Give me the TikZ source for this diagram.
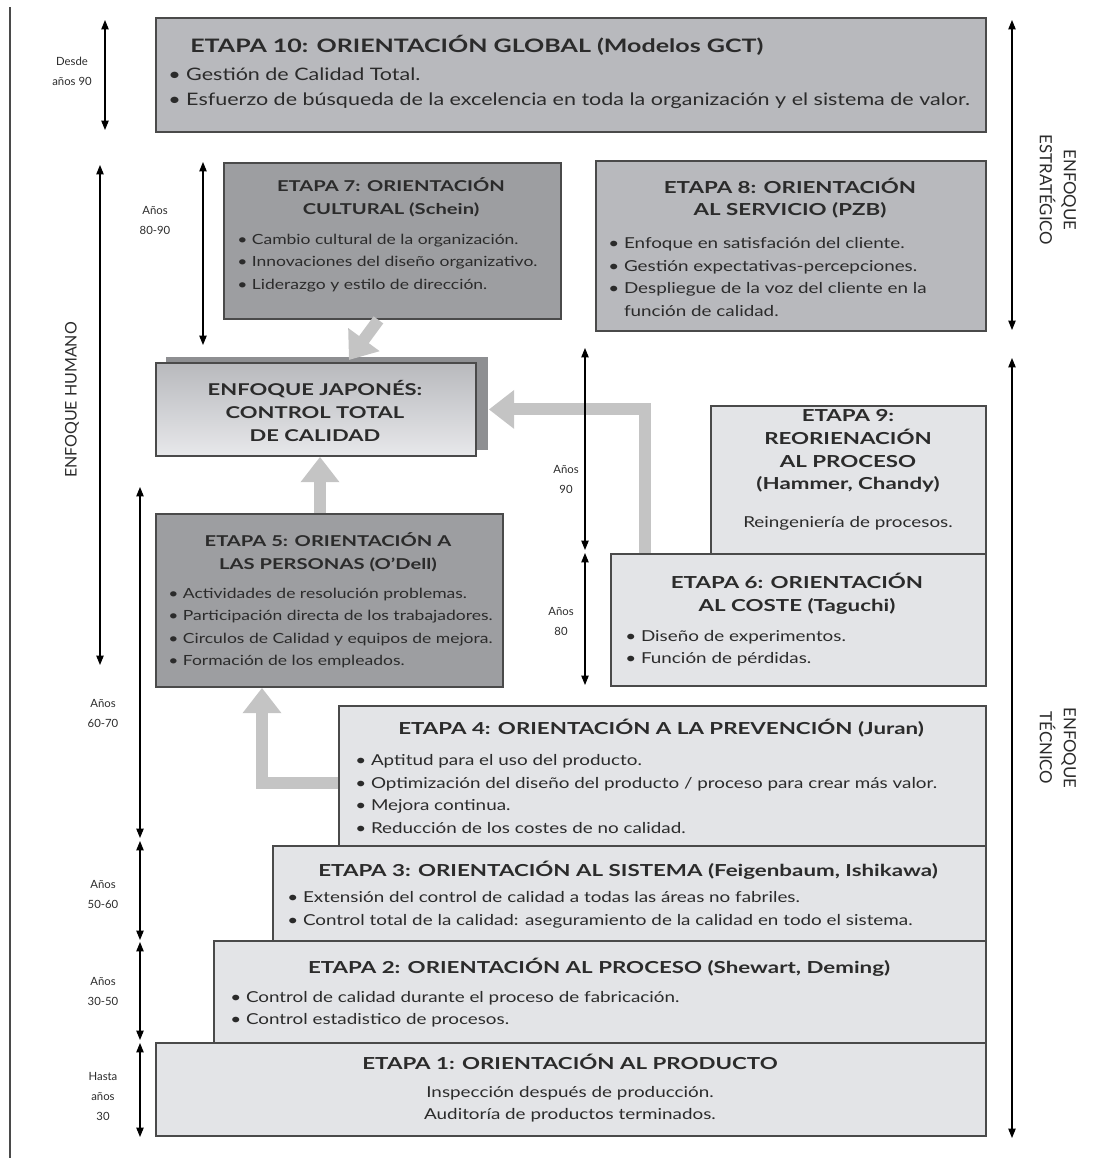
\documentclass[tikz,border=0pt]{standalone}
\usepackage{fontspec}
\setmainfont{Lato}
\newfontfamily\headfont{Lato}[FakeStretch=1.35]
\newfontfamily\copyfont{Lato}[FakeStretch=1.25]
\usetikzlibrary{arrows.meta,calc}
\definecolor{darkfill}{HTML}{9D9EA1}
\definecolor{midfill}{HTML}{B8B9BD}
\definecolor{lightfill}{HTML}{E3E4E7}
\definecolor{edge}{HTML}{4A4A4A}
\definecolor{flow}{HTML}{C4C4C4}
\definecolor{ink}{HTML}{2B2B2B}
\definecolor{shadowfill}{HTML}{8E8F92}
\begin{document}
\begin{tikzpicture}[x=0.75pt,y=-0.75pt,
  stage/.style={draw=edge, line width=1.4pt, anchor=north west, inner sep=0pt},
  wh/.style 2 args={minimum width=#1*0.75pt, minimum height=#2*0.75pt},
  title/.style={font=\headfont\bfseries\fontsize{12.4}{17}\selectfont, text=ink, align=center, inner sep=0pt},
  dtitle/.style={title, font=\headfont\bfseries\fontsize{11.2}{17}\selectfont},
  body/.style={font=\copyfont\fontsize{11.3}{16.8}\selectfont, text=ink, align=left, inner sep=0pt, anchor=west},
  dbody/.style={body, font=\copyfont\fontsize{10.5}{16.8}\selectfont},
  span/.style={{Triangle[length=7pt,width=5.5pt]}-{Triangle[length=7pt,width=5.5pt]}, line width=0.8pt, black},
  era/.style={font=\fontsize{8.5}{15}\selectfont, align=center, text=ink, inner sep=0pt},
  flowarrow/.style={draw=flow, line width=9pt, -{Triangle[length=19pt,width=28pt]}},
  side/.style={font=\fontsize{12}{18}\selectfont, align=center, text=ink, inner sep=0pt}
]
\useasboundingbox (0,0) rectangle (1116,1158);

% left frame line
\draw[edge, line width=1.5pt] (10,7) -- (10,1158);

% ---- stage boxes ----
\node[stage, wh={830}{114}, fill=midfill]   (e10) at (155,17) {};
\node[stage, wh={337}{156}, fill=darkfill]  (e7)  at (223,162) {};
\node[stage, wh={390}{170}, fill=midfill]   (e8)  at (595,160) {};
\node[stage, wh={322}{93}, fill=shadowfill, draw=none] (jps) at (165,356) {};
\node[stage, wh={320}{93}, top color=midfill, bottom color=lightfill!85!white] (jp) at (155,362) {};
\node[stage, wh={275}{148}, fill=lightfill] (e9)  at (710,405) {};
\node[stage, wh={375}{132}, fill=lightfill] (e6)  at (610,553) {};
\node[stage, wh={347}{173}, fill=darkfill]  (e5)  at (155,513) {};
\node[stage, wh={647}{140}, fill=lightfill] (e4)  at (338,705) {};
\node[stage, wh={713}{95}, fill=lightfill]  (e3)  at (272,845) {};
\node[stage, wh={772}{102}, fill=lightfill] (e2)  at (213,940) {};
\node[stage, wh={830}{93}, fill=lightfill]  (e1)  at (155,1042) {};

% ---- flows between stages ----
\draw[flowarrow] ($(e7.south)+(-14,0)$) -- ($(jp.north)+(33,-2)$);
\draw[flowarrow] ($(e5.north west)+(165,0)$) -- ($(jp.south west)+(165,0)$);
\draw[flowarrow, line join=miter] ($(e6.north west)+(35,0)$) |- (jp.east -| jps.east);
\draw[flowarrow, line join=miter] ($(e4.north west)+(0,78)$) -| ($(e5.south west)+(107,0)$);

% ---- texts ----
\node[title, anchor=west, font=\headfont\bfseries\fontsize{13.9}{17}\selectfont] (t10) at (190,45) {ETAPA 10: ORIENTACIÓN GLOBAL (Modelos GCT)};
\node[body, font=\copyfont\fontsize{12.9}{18.8}\selectfont] (b10) at (168,88) {• Gestión de Calidad Total.\\• Esfuerzo de búsqueda de la excelencia en toda la organización y el sistema de valor.};

\node[dtitle] (t7) at (391,197) {ETAPA 7: ORIENTACIÓN\\CULTURAL (Schein)};
\node[dbody] (b7) at (237,263) {• Cambio cultural de la organización.\\• Innovaciones del diseño organizativo.\\• Liderazgo y estilo de dirección.};

\node[title] (t8) at (790,198) {ETAPA 8: ORIENTACIÓN\\AL SERVICIO (PZB)};
\node[body] (b8) at (608,277) {• Enfoque en satisfación del cliente.\\• Gestión expectativas-percepciones.\\• Despliegue de la voz del cliente en la\\\phantom{• }función de calidad.};

\node[title, font=\headfont\bfseries\fontsize{12.2}{17}\selectfont] (tjp) at (315,411) {ENFOQUE JAPONÉS:\\CONTROL TOTAL\\DE CALIDAD};

\node[title] (t9) at (848,451) {ETAPA 9:\\REORIENACIÓN\\AL PROCESO\\(Hammer, Chandy)};
\node[body, anchor=center] (b9) at (848,523) {Reingeniería de procesos.};

\node[title] (t6) at (797,594) {ETAPA 6: ORIENTACIÓN\\AL COSTE (Taguchi)};
\node[body] (b6) at (625,648) {• Diseño de experimentos.\\• Función de pérdidas.};

\node[dtitle] (t5) at (328,552) {ETAPA 5: ORIENTACIÓN A\\LAS PERSONAS (O’Dell)};
\node[dbody] (b5) at (168,628) {• Actividades de resolución problemas.\\• Participación directa de los trabajadores.\\• Circulos de Calidad y equipos de mejora.\\• Formación de los empleados.};

\node[title] (t4) at (661,728) {ETAPA 4: ORIENTACIÓN A LA PREVENCIÓN (Juran)};
\node[body] (b4) at (355,794) {• Aptitud para el uso del producto.\\• Optimización del diseño del producto / proceso para crear más valor.\\• Mejora continua.\\• Reducción de los costes de no calidad.};

\node[title] (t3) at (628,870) {ETAPA 3: ORIENTACIÓN AL SISTEMA (Feigenbaum, Ishikawa)};
\node[body] (b3) at (287,910) {• Extensión del control de calidad a todas las áreas no fabriles.\\• Control total de la calidad: aseguramiento de la calidad en todo el sistema.};

\node[title] (t2) at (599,967) {ETAPA 2: ORIENTACIÓN AL PROCESO (Shewart, Deming)};
\node[body] (b2) at (230,1009) {• Control de calidad durante el proceso de fabricación.\\• Control estadistico de procesos.};

\node[title] (t1) at (570,1062) {ETAPA 1: ORIENTACIÓN AL PRODUCTO};
\node[body, align=center, anchor=center] (b1) at (570,1104) {Inspección después de producción.\\Auditoría de productos terminados.};

% ---- period spans ----
\coordinate (s10a) at (105,20);   \coordinate (s10b) at (105,130);
\coordinate (hua)  at (100,165);  \coordinate (hub)  at (100,665);
\coordinate (s7a)  at (203,162);  \coordinate (s7b)  at (203,345);
\coordinate (s9a)  at (585,348);  \coordinate (s9b)  at (585,550);
\coordinate (s6a)  at (585,553);  \coordinate (s6b)  at (585,685);
\coordinate (s5a)  at (140,487);  \coordinate (s5b)  at (140,838);
\coordinate (s3a)  at (140,841);  \coordinate (s3b)  at (140,940);
\coordinate (s2a)  at (140,942);  \coordinate (s2b)  at (140,1040);
\coordinate (s1a)  at (140,1043); \coordinate (s1b)  at (140,1137);
\coordinate (esa)  at (1012,20);  \coordinate (esb)  at (1012,330);
\coordinate (tea)  at (1012,358); \coordinate (teb)  at (1012,1138);
\foreach \a/\b in {s10a/s10b,hua/hub,s7a/s7b,s9a/s9b,s6a/s6b,s5a/s5b,s3a/s3b,s2a/s2b,s1a/s1b,esa/esb,tea/teb}
  \draw[span] (\a) -- (\b);

\node[era] (p10) at (72,71)   {Desde\\años 90};
\node[era] (p7)  at (155,220) {Años\\80-90};
\node[era] (p9)  at (566,479) {Años\\90};
\node[era] (p6)  at (561,621) {Años\\80};
\node[era] (p5)  at (103,713) {Años\\60-70};
\node[era] (p3)  at (103,894) {Años\\50-60};
\node[era] (p2)  at (103,991) {Años\\30-50};
\node[era] (p1)  at (103,1096) {Hasta\\años\\30};

% ---- approach labels ----
\node[side, rotate=90]  (hum) at (72,400)  {ENFOQUE HUMANO};
\node[side, rotate=-90, font=\fontsize{12.6}{18}\selectfont] (est) at (1058,190) {ENFOQUE\\ESTRATÉGICO};
\node[side, rotate=-90, font=\fontsize{12.6}{18}\selectfont] (tec) at (1058,748) {ENFOQUE\\TÉCNICO};
\end{tikzpicture}
\end{document}
